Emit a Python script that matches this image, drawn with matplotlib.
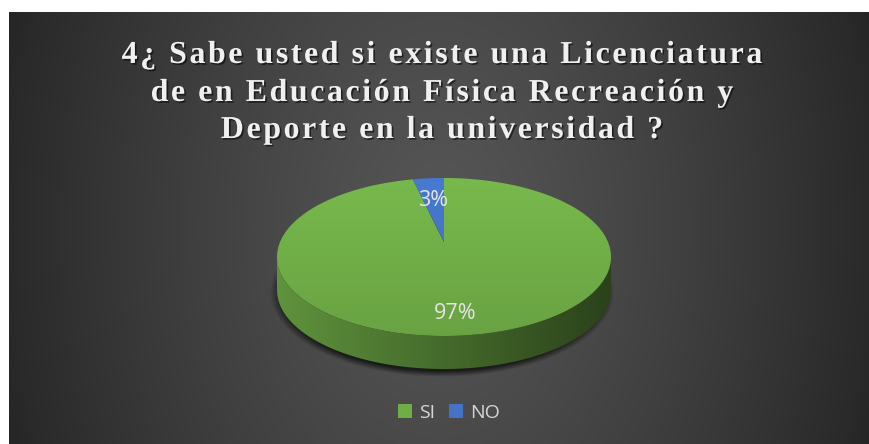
import numpy as np
import matplotlib.pyplot as plt
import matplotlib.patheffects as pe
from matplotlib.patches import Polygon, Patch
from matplotlib.colors import to_rgb
from matplotlib.font_manager import FontProperties

# data
categories = ["SI", "NO"]
percentages = [97, 3]
slice_colors = ["#70ad47", "#4472c4"]
title_lines = [
    "4¿ Sabe usted si existe una Licenciatura",
    "de en Educación Física Recreación y",
    "Deporte en la universidad ?",
]

W, H = 870, 444
fig = plt.figure(figsize=(W / 100, H / 100), dpi=100, facecolor="white")
ax = fig.add_axes([0, 0, 1, 1])
ax.axis("off")

# dark radial background (white strip on top/left like the source)
x0, y0 = 9, 13
X, Y = np.meshgrid(np.arange(x0, W) + 0.5, np.arange(y0, H) + 0.5)
r = np.hypot((X - 439.5) / 430, (Y - 228) / 620)
v = 86 - 44 * np.clip(r, 0, 1) ** 1.2 - 8 * np.clip((r - 1) / 0.1, 0, 1)
ax.imshow(np.dstack([v, v, v]) / 255, extent=(x0, W, H, y0), zorder=0,
          interpolation="bilinear", aspect="auto")

# 3-D pie geometry (pixels)
cx, cy, rx, ry = 444, 257, 167, 79
depth = 33
apex_lift = 15


def rim(theta, dy=0.0):
    t = np.radians(theta)
    return cx + rx * np.cos(t), cy - ry * np.sin(t) + dy


def clipped_image(pts, img, extent, z):
    patch = Polygon(pts, closed=True, facecolor="none", edgecolor="none")
    ax.add_patch(patch)
    im = ax.imshow(img, extent=extent, zorder=z, interpolation="bilinear", aspect="auto")
    im.set_clip_path(patch)


# soft shadow under the pie
SX, SY = np.meshgrid(np.arange(cx - rx - 20, cx + rx + 20) + 0.5,
                     np.arange(cy - ry, cy + ry + depth + 20) + 0.5)
d = np.hypot((SX - cx + 2) / (rx + 5), (SY - cy - depth - 3) / (ry + 5))
sh = np.zeros(SX.shape + (4,))
sh[..., 3] = 0.65 * np.clip((1.0 - d) / 0.07, 0, 1)
ax.imshow(sh, extent=(cx - rx - 20, cx + rx + 20, cy + ry + depth + 20, cy - ry),
          zorder=1, interpolation="bilinear", aspect="auto")

fracs = np.array(percentages, dtype=float) / sum(percentages)
bounds = 90 - 360 * np.concatenate([[0], np.cumsum(fracs)])

for i, col in enumerate(slice_colors):
    b0, b1 = bounds[i], bounds[i + 1]
    base = np.array(to_rgb(col))

    # front side (only the part facing the viewer)
    for k in range(-2, 2):
        lo, hi = max(b1, 180 + 360 * k), min(b0, 360 + 360 * k)
        if hi <= lo:
            continue
        th = np.linspace(lo, hi, 200)
        top = np.array([rim(t) for t in th])
        bot = np.array([rim(t, depth) for t in th[::-1]])
        pts = np.vstack([top, bot])
        f = np.linspace(0.85, 0.38, 300)
        img = np.clip(base[None, None, :] * f[None, :, None], 0, 1)
        clipped_image(pts, img, (cx - rx, cx + rx, cy + ry + depth, cy - ry), 2)

    # top face
    th = np.linspace(b0, b1, 400)
    pts = np.vstack([[cx, cy - apex_lift], np.array([rim(t) for t in th])])
    f = np.linspace(1.07, 0.94, 200)
    img = np.clip(base[None, None, :] * f[:, None, None], 0, 1)
    img = np.repeat(img, 2, axis=1)
    clipped_image(pts, img, (cx - rx, cx + rx, cy + ry, cy - ry), 3)

    # data label
    mid = np.radians((b0 + b1) / 2)
    ax.text(cx + 0.72 * rx * np.cos(mid), cy - 0.72 * ry * np.sin(mid),
            f"{percentages[i]}%", ha="center", va="center", fontsize=15.5,
            family="Open Sans", color="#e4e4e4", zorder=5)

# title with letter spacing
renderer = fig.canvas.get_renderer()
fp = FontProperties(family="Liberation Serif", weight="bold", size=23)
track = 2.5
shadow = [pe.withSimplePatchShadow(offset=(1.2, -1.2), shadow_rgbFace="black", alpha=0.55)]
for line, base_y in zip(title_lines, [63, 101, 138]):
    widths = [renderer.get_text_width_height_descent(ch, fp, ismath=False)[0] for ch in line]
    total = sum(widths) + track * (len(line) - 1)
    x = 442 - total / 2
    for ch, w in zip(line, widths):
        if ch != " ":
            ax.text(x, base_y, ch, fontproperties=fp, color="#f0f0f0", ha="left",
                    va="baseline", zorder=6, path_effects=shadow)
        x += w + track

ax.set_xlim(0, W)
ax.set_ylim(H, 0)

handles = [Patch(facecolor=c, edgecolor="none") for c in slice_colors]
fig.legend(handles, categories, loc="center", bbox_to_anchor=(449 / W, 1 - 413 / H),
           ncol=2, frameon=False, handlelength=0.72, handleheight=0.72,
           handletextpad=0.32, columnspacing=0.75,
           prop={"family": "Open Sans", "size": 14}, labelcolor="#d6d6d6")

fig.savefig("out.png", dpi=100, facecolor="white")
